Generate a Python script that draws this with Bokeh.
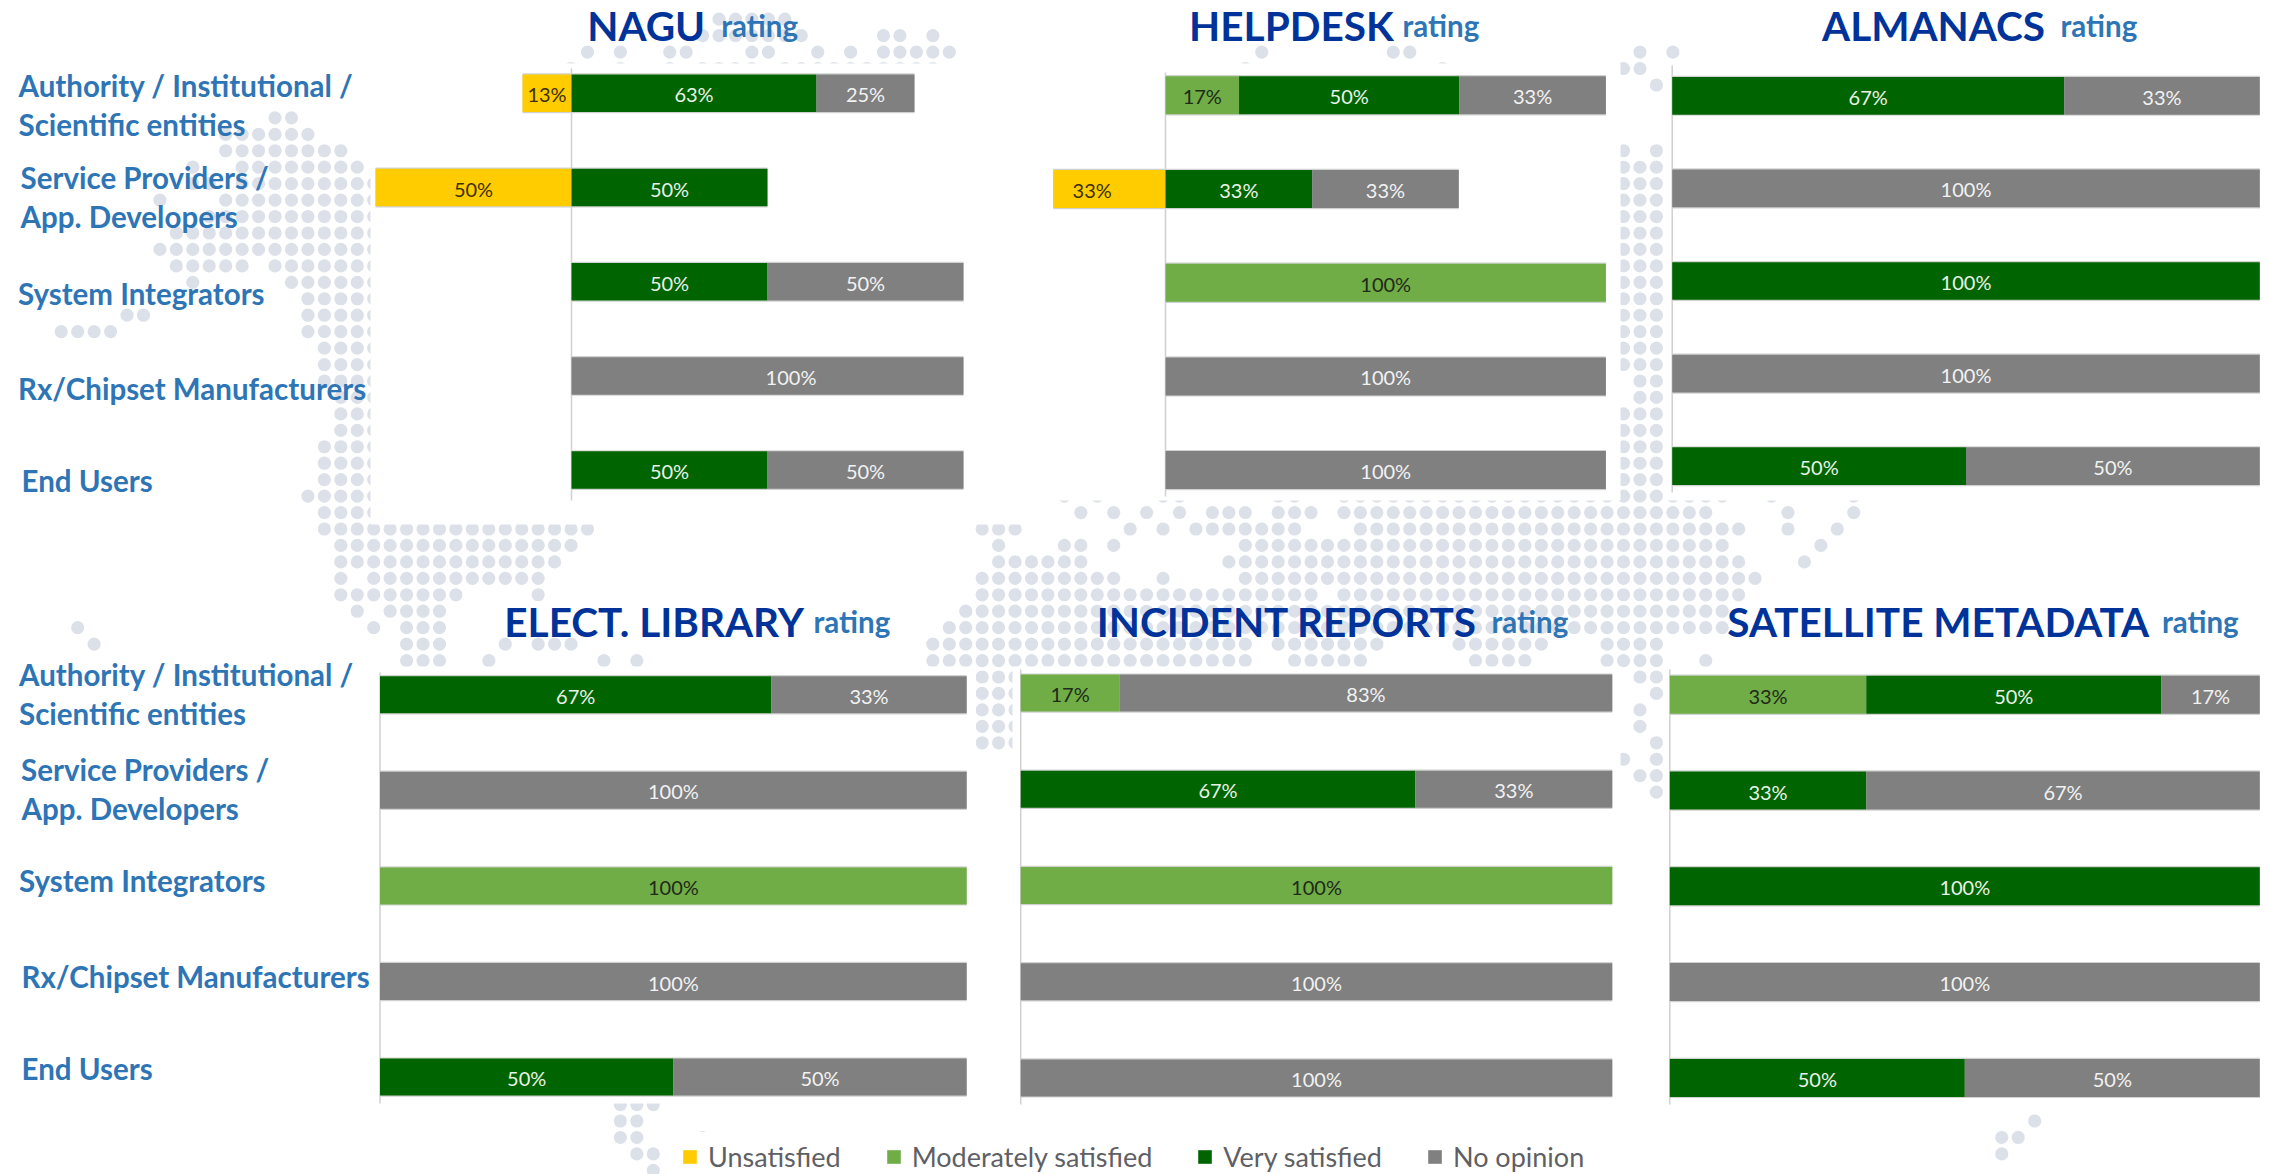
from bokeh.embed import file_html
from bokeh.resources import INLINE
from bokeh.plotting import figure
from bokeh.models import Range1d, ColumnDataSource, Legend, LegendItem
from bokeh.core.properties import value

# ---------- data ----------
categories = ["Authority / Institutional / Scientific entities", "Service Providers / App. Developers",
              "System Integrators", "Rx/Chipset Manufacturers", "End Users"]
statuses = ["Unsatisfied", "Moderately satisfied", "Very satisfied", "No opinion"]

nagu_unsatisfied = [12.5, 50, 0, 0, 0]
nagu_moderate = [0, 0, 0, 0, 0]
nagu_very = [62.5, 50, 50, 0, 50]
nagu_none = [25, 0, 50, 100, 50]

helpdesk_unsatisfied = [0, 33.3, 0, 0, 0]
helpdesk_moderate = [16.7, 0, 100, 0, 0]
helpdesk_very = [50, 33.3, 0, 0, 0]
helpdesk_none = [33.3, 33.3, 0, 100, 100]

almanacs_unsatisfied = [0, 0, 0, 0, 0]
almanacs_moderate = [0, 0, 0, 0, 0]
almanacs_very = [66.7, 0, 100, 0, 50]
almanacs_none = [33.3, 100, 0, 100, 50]

library_unsatisfied = [0, 0, 0, 0, 0]
library_moderate = [0, 0, 100, 0, 0]
library_very = [66.7, 0, 0, 0, 50]
library_none = [33.3, 100, 0, 100, 50]

incident_unsatisfied = [0, 0, 0, 0, 0]
incident_moderate = [16.7, 0, 100, 0, 0]
incident_very = [0, 66.7, 0, 0, 0]
incident_none = [83.3, 33.3, 0, 100, 100]

metadata_unsatisfied = [0, 0, 0, 0, 0]
metadata_moderate = [33.3, 0, 0, 0, 0]
metadata_very = [50, 33.3, 100, 0, 50]
metadata_none = [16.7, 66.7, 0, 100, 50]

# ---------- decorative dotted world map: row -> runs of grid columns ----------
map_rows = {
    0: [(41, 45)], 1: [(40, 46), (51, 52), (54, 54)],
    2: [(33, 33), (35, 35), (38, 39), (43, 44), (47, 47), (49, 49), (51, 55), (74, 74), (82, 83), (97, 97), (99, 99)],
    3: [(32, 32), (35, 35), (38, 38), (40, 43), (45, 54), (73, 73), (85, 85), (96, 97)],
    4: [(98, 98)], 6: [(14, 15)], 7: [(11, 16)], 8: [(11, 18), (96, 96), (98, 98)],
    9: [(9, 9), (12, 19), (96, 98)], 10: [(9, 10), (12, 20), (96, 98)], 11: [(7, 7), (11, 20), (96, 98)],
    12: [(10, 20), (96, 98)], 13: [(8, 20), (96, 98)], 14: [(7, 20), (96, 98)],
    15: [(8, 12), (14, 20), (96, 98)], 16: [(9, 9), (15, 20), (96, 98)], 17: [(16, 20), (96, 98)],
    18: [(5, 6), (16, 20), (96, 98)], 19: [(1, 4), (16, 20), (96, 98)], 20: [(17, 20), (96, 98)],
    21: [(17, 20), (96, 98)], 22: [(17, 20), (97, 98)], 23: [(18, 20), (97, 98)], 24: [(18, 20), (96, 98)],
    25: [(18, 20), (96, 98)], 26: [(17, 20), (96, 98)], 27: [(17, 20), (96, 98)], 28: [(17, 20), (96, 98)],
    29: [(16, 20), (62, 62), (64, 64), (68, 69), (75, 76), (79, 102), (105, 105), (110, 110)],
    30: [(17, 20), (63, 63), (65, 65), (67, 67), (69, 69), (71, 73), (75, 77), (79, 101), (106, 106), (110, 110)],
    31: [(17, 33), (57, 59), (66, 66), (68, 68), (70, 76), (80, 103), (106, 106), (109, 109)],
    32: [(18, 32), (58, 58), (62, 63), (65, 65), (73, 102), (108, 108)],
    33: [(18, 31), (58, 63), (72, 103), (107, 107)],
    34: [(18, 18), (20, 30), (57, 65), (68, 68), (73, 104)],
    35: [(18, 25), (30, 30), (57, 77), (79, 103)],
    36: [(19, 19), (21, 24), (56, 102)],
    37: [(2, 2), (20, 20), (22, 24), (55, 102)],
    38: [(3, 3), (22, 24), (28, 28), (30, 32), (54, 73), (75, 81), (86, 91), (95, 98)],
    39: [(22, 24), (27, 27), (34, 34), (36, 36), (54, 73), (76, 80), (87, 90), (95, 98), (101, 101)],
    40: [(57, 59), (97, 98)], 41: [(57, 59), (98, 98)], 42: [(57, 59), (97, 97)], 43: [(57, 59), (97, 97)],
    44: [(57, 59), (98, 98)], 45: [(96, 96), (98, 98)], 46: [(97, 98)], 47: [(98, 98)],
    66: [(35, 37)], 67: [(35, 36), (121, 121)], 68: [(35, 36), (40, 40), (119, 120)],
    69: [(36, 37), (119, 119)], 70: [(37, 37)],
}

# ---------- layout (image pixels) ----------
W, H, OFF = 2269, 1174, 0
COL = {"Unsatisfied": "#FFCC00", "Moderately satisfied": "#70AD47", "Very satisfied": "#006400", "No opinion": "#808080"}
TXT = {"Unsatisfied": "#3D3000", "Moderately satisfied": "#1F2A18", "Very satisfied": "#EAF3E6", "No opinion": "#F2F2F2"}
NAVY, BLUE = "#003399", "#2E75B6"
FONT = "Lato"
TITLE_SHIFT = -15
LABEL_SHIFT = {("nagu", 3, "No opinion"): 6.0}

panels = [
    dict(key="nagu", title="NAGU", tx=(586.7, 720.7), base=40, x0=571, s=3.92, c0=92.8, pitch=94.2, h=37.5, axis=(68, 500), clip=None,
         v=(nagu_unsatisfied, nagu_moderate, nagu_very, nagu_none)),
    dict(key="help", title="HELPDESK", tx=(1188.6, 1402), base=40, x0=1165, s=4.404, c0=94.8, pitch=93.7, h=38, axis=(72, 496), clip=-25.5,
         v=(helpdesk_unsatisfied, helpdesk_moderate, helpdesk_very, helpdesk_none)),
    dict(key="alma", title="ALMANACS", tx=(1821.5, 2060), base=40, x0=1671.7, s=5.876, c0=95.3, pitch=92.6, h=37.7, axis=(65, 492), clip=None,
         v=(almanacs_unsatisfied, almanacs_moderate, almanacs_very, almanacs_none)),
    dict(key="elec", title="ELECT. LIBRARY", tx=(503.8, 813), base=636, x0=379.5, s=5.867, c0=694.2, pitch=95.6, h=37, axis=(672, 1103), clip=None,
         v=(library_unsatisfied, library_moderate, library_very, library_none)),
    dict(key="inci", title="INCIDENT REPORTS", tx=(1096.3, 1491), base=636, x0=1020.2, s=5.916, c0=692.6, pitch=96.2, h=37, axis=(669, 1104), clip=None,
         v=(incident_unsatisfied, incident_moderate, incident_very, incident_none)),
    dict(key="sate", title="SATELLITE METADATA", tx=(1726.8, 2161.4), base=636, x0=1669.3, s=5.90, c0=694.2, pitch=95.8, h=38, axis=(669, 1104), clip=None,
         v=(metadata_unsatisfied, metadata_moderate, metadata_very, metadata_none)),
]

white_panels = [(370, 63, 1020, 524), (1020, 63, 1620, 500), (1665, 63, 2269, 500),
                (372, 666, 975.5, 1103), (1012, 666, 1620, 1174), (1663, 666, 2269, 1103), (680, 1131.5, 1960, 1174)]

cat_lines = [
    ("Authority / Institutional /", 18, 85, 18.5, 674), ("Scientific entities", 18, 124, 18.5, 713),
    ("Service Providers /", 20, 177, 20.5, 769), ("App. Developers", 20, 216, 21, 807.5),
    ("System Integrators", 17.5, 292.5, 18.5, 879.5), ("Rx/Chipset Manufacturers", 17.5, 388, 21, 975.5),
    ("End Users", 21, 480, 21, 1068),
]

p = figure(width=W, height=H, output_backend="svg", toolbar_location=None,
           x_range=Range1d(OFF, OFF + W), y_range=Range1d(OFF + H, OFF),
           x_axis_location=None, y_axis_location=None, min_border=0,
           background_fill_color="white", border_fill_color="white", outline_line_color=None)
p.grid.visible = False

# dotted map
dx, dy = [], []
for row, runs in map_rows.items():
    for a, b in runs:
        for k in range(a, b + 1):
            dx.append(44.3 + 16.445 * k)
            dy.append(18.7 + 16.445 * row)
p.scatter(dx, dy, marker="circle", size=13.2, fill_color="#DCE1E9", line_color=None)

p.quad(left=[w[0] for w in white_panels], top=[w[1] for w in white_panels],
       right=[w[2] for w in white_panels], bottom=[w[3] for w in white_panels],
       fill_color="white", line_color=None)

legend_rends = {}
for pn in panels:
    k, s, x0 = pn["key"], pn["s"], pn["x0"]
    c0, pitch = pn["c0"], pn["pitch"]
    p.extra_x_ranges[k] = Range1d((OFF - x0) / s, (OFF + W - x0) / s)
    p.extra_y_ranges[k] = Range1d((OFF + H - c0) / pitch, (OFF - c0) / pitch)
    rows = list(range(len(categories)))
    hrow = pn["h"] / pitch
    un, mo, ve, no = pn["v"]
    clip = pn["clip"]
    lefts_u = [-u if clip is None else max(-u, clip) for u in un]
    totals = [m + v + n for m, v, n in zip(mo, ve, no)]
    # vertical axis line at the zero of the scale
    p.segment(x0=[0], x1=[0], y0=[(pn["axis"][0] - c0) / pitch], y1=[(pn["axis"][1] - c0) / pitch],
              line_color="#D0D0D0", line_width=1.5, x_range_name=k, y_range_name=k)
    # light halo around each stacked bar
    p.hbar(y=rows, left=lefts_u, right=totals, height=(pn["h"] + 2.4) / pitch, fill_color="#CFD3CF", line_color=None,
           x_range_name=k, y_range_name=k)
    # stacked segments
    base = [0.0] * 5
    tx, ty, tl, tc = [], [], [], []
    for st, vals in zip(statuses, pn["v"]):
        if st == "Unsatisfied":
            L, R = lefts_u, [0.0] * 5
            label_x = [-v / 2 for v in vals]     # centred on the full value, even where the bar is cropped
        else:
            L = list(base)
            R = [b + v for b, v in zip(base, vals)]
            label_x = [(a + b) / 2 for a, b in zip(L, R)]
            base = R
        idx = [i for i, v in enumerate(vals) if v > 0]
        if not idx:
            continue
        src = ColumnDataSource(dict(y=[rows[i] for i in idx], left=[L[i] for i in idx], right=[R[i] for i in idx]))
        r = p.hbar(y="y", left="left", right="right", height=hrow, source=src, fill_color=COL[st], line_color=None,
                   x_range_name=k, y_range_name=k)
        legend_rends.setdefault(st, r)
        for i in idx:
            tx.append(label_x[i] + LABEL_SHIFT.get((k, i, st), 0.0))
            ty.append(rows[i] + 1.0 / pitch)
            tl.append(f"{int(vals[i] + 0.5)}%")
            tc.append(TXT[st])
    p.text(x=tx, y=ty, text=tl, text_color=tc, text_font=value(FONT), text_font_size="20px",
           text_align="center", text_baseline="middle", x_range_name=k, y_range_name=k)
    # title
    p.text(x=[pn["tx"][0]], y=[pn["base"] + TITLE_SHIFT], text=[pn["title"]], text_color=NAVY, text_font=value(FONT),
           text_font_size="40.5px", text_font_style="bold", text_align="left", text_baseline="alphabetic")
    p.text(x=[pn["tx"][1]], y=[pn["base"] + TITLE_SHIFT], text=["rating"], text_color=BLUE, text_font=value(FONT),
           text_font_size="29.5px", text_font_style="bold", text_align="left", text_baseline="alphabetic")

# category labels, both rows of panels
for col_x, col_y in ((1, 2), (3, 4)):
    p.text(x=[c[col_x] for c in cat_lines], y=[c[col_y] for c in cat_lines], text=[c[0] for c in cat_lines],
           text_color=BLUE, text_font=value(FONT), text_font_size="29.5px", text_font_style="bold",
           text_align="left", text_baseline="middle")

legend = Legend(items=[LegendItem(label=st, renderers=[legend_rends[st]]) for st in statuses],
                orientation="horizontal", location=(681, 1), background_fill_alpha=0, border_line_color=None,
                label_text_font=FONT, label_text_font_size="27px", label_text_color="#5F5F66",
                glyph_width=17, glyph_height=17, label_standoff=10, spacing=44, margin=0, padding=0,
                label_height=26)
p.add_layout(legend, "center")

open("out.html", "w").write(file_html(p, INLINE))
